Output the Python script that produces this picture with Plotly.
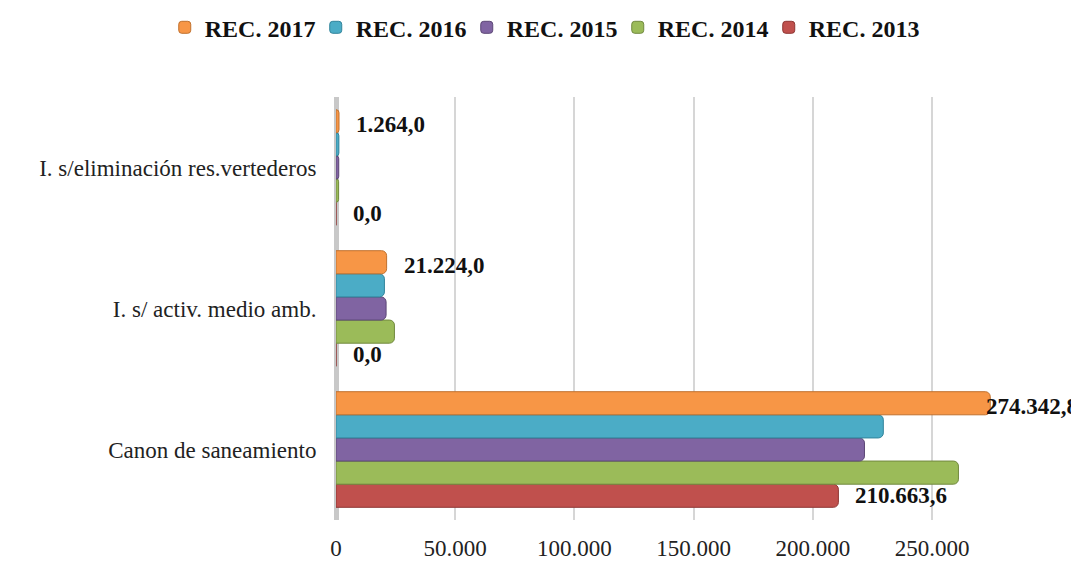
import plotly.graph_objects as go

categories = ["Canon de saneamiento", "I. s/ activ. medio amb.", "I. s/eliminación res.vertederos"]
series_names = ["REC. 2013", "REC. 2014", "REC. 2015", "REC. 2016", "REC. 2017"]
rec_2013 = [210663.6, 0.0, 0.0]
rec_2014 = [261000.0, 24500.0, 1100.0]
rec_2015 = [221600.0, 21000.0, 1150.0]
rec_2016 = [229500.0, 20300.0, 1200.0]
rec_2017 = [274342.8, 21224.0, 1264.0]
x_tickvals = [0, 50000, 100000, 150000, 200000, 250000]
x_ticktext = ["0", "50.000", "100.000", "150.000", "200.000", "250.000"]

colors = ["#C0504D", "#9BBB59", "#8064A2", "#4BACC6", "#F79646"]
lines = ["#8E3532", "#71893F", "#5C4776", "#31849B", "#C0712E"]
labelled = {"REC. 2013": -1, "REC. 2017": 1}

BARGAP = 0.18
SERIF = "Liberation Serif"
X_MAX = 308200


def es_fmt(v):
    s = f"{v:,.1f}"
    return s.replace(",", "X").replace(".", ",").replace("X", ".")


all_series = [rec_2013, rec_2014, rec_2015, rec_2016, rec_2017]
fig = go.Figure()
for name, vals, c, lc in zip(series_names, all_series, colors, lines):
    fig.add_trace(go.Bar(
        y=categories, x=vals, name=name, orientation="h",
        marker=dict(color=c, line=dict(color=lc, width=1), cornerradius=5),
        cliponaxis=True,
    ))

# value labels for first / last series, placed just beyond the bar end
n = len(series_names)
bar_w = (1 - BARGAP) / n
for name, side in labelled.items():
    vals = all_series[series_names.index(name)]
    off = side * ((1 - BARGAP) / 2 - bar_w / 2)
    for i, v in enumerate(vals):
        near_edge = v > 0.85 * X_MAX
        fig.add_annotation(
            x=v, y=i + off, xref="x", yref="y", text=es_fmt(v),
            showarrow=False, xanchor="left", yanchor="middle",
            xshift=-6 if near_edge else 15, yshift=0 if side < 0 else -3,
            font=dict(family=SERIF, size=23, color="#111111", weight="bold"),
        )

fig.update_layout(
    width=1071, height=567,
    margin=dict(l=336, r=0, t=97, b=47, autoexpand=False),
    paper_bgcolor="white", plot_bgcolor="white",
    barmode="group", bargap=BARGAP, bargroupgap=0.0,
    font=dict(family=SERIF, size=23, color="#222222"),
    showlegend=True,
    legend=dict(orientation="h", traceorder="reversed",
                xref="paper", x=-0.233, xanchor="left",
                yref="paper", y=1.217, yanchor="top",
                font=dict(family=SERIF, size=24, color="#111111", weight="bold"),
                entrywidth=106, itemwidth=30, tracegroupgap=0),
    xaxis=dict(range=[0, X_MAX], tickvals=x_tickvals, ticktext=x_ticktext,
               showgrid=True, gridcolor="#D6D6D6", gridwidth=1.5,
               zeroline=True, zerolinecolor="#C8C8C8", zerolinewidth=5,
               ticks="outside", ticklen=7, tickcolor="rgba(0,0,0,0)",
               automargin=False,
               tickfont=dict(family=SERIF, size=23, color="#222222")),
    yaxis=dict(showgrid=False, ticks="outside", ticklen=14, tickcolor="rgba(0,0,0,0)",
               automargin=False,
               tickfont=dict(family=SERIF, size=23, color="#222222")),
)

fig.write_html("out.html", config={"displayModeBar": False},
               post_script="document.body.style.margin='0';document.body.style.overflow='hidden';")
